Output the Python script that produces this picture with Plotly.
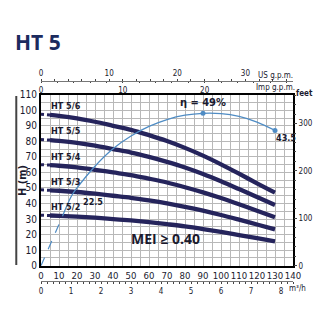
import plotly.graph_objects as go

# ---------------- data ----------------
flow = [5, 10, 20, 30, 40, 50, 60, 70, 80, 90, 100, 110, 120, 130]  # l/min
flow_dot = [0, 5]
ht56 = [97.0, 96.4, 94.8, 92.6, 90.0, 87.4, 84.0, 80.2, 75.8, 70.8, 65.2, 59.2, 53.0, 47.0]
ht55 = [80.8, 80.3, 79.0, 77.2, 75.0, 72.8, 70.0, 66.8, 63.2, 59.0, 54.3, 49.3, 44.2, 39.1]
ht54 = [64.7, 64.3, 63.2, 61.7, 60.0, 58.3, 56.0, 53.5, 50.5, 47.2, 43.5, 39.5, 35.3, 31.2]
ht53 = [48.5, 48.2, 47.4, 46.3, 45.0, 43.7, 42.0, 40.1, 37.9, 35.4, 32.6, 29.6, 26.5, 23.4]
ht52 = [32.3, 32.1, 31.6, 30.9, 30.0, 29.1, 28.0, 26.7, 25.3, 23.6, 21.7, 19.7, 17.7, 15.7]
h0 = [97.5, 81.2, 65.0, 48.8, 32.5]
names = ["HT 5/6", "HT 5/5", "HT 5/4", "HT 5/3", "HT 5/2"]

eff_flow_dash = [0, 4, 8, 12]
eff_dash = [0, 5.4, 10.8, 16.0]
eff_flow = [12, 17, 20, 30, 40, 50, 60, 70, 80, 90, 100, 110, 120, 130]
eff = [16.0, 22.5, 25.0, 32.0, 37.6, 41.7, 44.8, 47.0, 48.4, 49.0, 48.9, 48.0, 46.2, 43.5]

xticks = list(range(0, 141, 10))
yticks = list(range(0, 111, 10))
feet_ticks = [0, 100, 200, 300]
us_ticks = [0, 10, 20, 30]
imp_ticks = [0, 10, 20]
m3h_ticks = list(range(0, 9))

NAVY = "#25245c"
EFFC = "#4f8cc4"
TXT = "#1a1a2e"
FONT = "DejaVu Sans Condensed, Liberation Sans Narrow, sans-serif"
GRID = "#b8b8b8"

fig = go.Figure()
curves = [ht56, ht55, ht54, ht53, ht52]
for nm, c, s in zip(names, curves, h0):
    fig.add_trace(go.Scatter(x=flow_dot, y=[s, c[0]], mode="lines",
                             line=dict(color=NAVY, width=3, dash="dot"),
                             hoverinfo="skip", showlegend=False))
    fig.add_trace(go.Scatter(x=flow, y=c, mode="lines", line=dict(color=NAVY, width=4.3, shape="spline"),
                             showlegend=False, name=nm))
    fig.add_annotation(x=4.5, y=s, text="<b>" + nm + "</b>", showarrow=False, xanchor="left",
                       yanchor="bottom", yshift=1, font=dict(family=FONT, size=9, color=TXT))

fig.add_trace(go.Scatter(x=eff_flow_dash, y=eff_dash, mode="lines", yaxis="y3",
                         line=dict(color=EFFC, width=1.2, dash="dash"), showlegend=False))
fig.add_trace(go.Scatter(x=eff_flow, y=eff, mode="lines", yaxis="y3",
                         line=dict(color=EFFC, width=1.3, shape="spline"), showlegend=False))
fig.add_trace(go.Scatter(x=[eff_flow[9], eff_flow[-1]], y=[eff[9], eff[-1]], mode="markers", yaxis="y3",
                         marker=dict(color=EFFC, size=5), showlegend=False))

fig.add_annotation(x=90, y=49, yref="y3", text="<b>η = 49%</b>", showarrow=False, yanchor="bottom",
                   xanchor="center", yshift=2, font=dict(family=FONT, size=11, color=TXT))
fig.add_annotation(x=130, y=43.5, yref="y3", text="<b>43.5</b>", showarrow=False, yanchor="top",
                   xanchor="left", xshift=-1, yshift=-1, font=dict(family=FONT, size=9, color=TXT))
fig.add_annotation(x=17, y=22.5, yref="y3", text="<b>22.5</b>", showarrow=False, yanchor="top",
                   xanchor="left", xshift=9, yshift=1, font=dict(family=FONT, size=9, color=TXT))
fig.add_annotation(x=69, y=17.8, text="<b>MEI ≥ 0.40</b>", showarrow=False, xanchor="center",
                   yanchor="middle",
                   font=dict(family="Open Sans, DejaVu Sans, sans-serif", size=14, color=TXT))

# paper coords: x 0..1 over 41..306 px, y 0..1 over 300..70 px
def px(xp):
    return (xp - 41) / 265.0

def py(yp):
    return (300 - yp) / 230.0

def note(xp, yp, text, size, xa="center", angle=0, family=FONT, color=TXT):
    fig.add_annotation(xref="paper", yref="paper", x=px(xp), y=py(yp), text=text, showarrow=False,
                       xanchor=xa, yanchor="middle", textangle=angle,
                       font=dict(family=family, size=size, color=color))

note(12, 42, "<b>HT 5</b>", 21, xa="left", family="Open Sans, DejaVu Sans, sans-serif", color="#1c2b5e")
note(21, 180, "<b>H (m)</b>", 11, angle=-90)
note(307, 93, "<b>feet</b>", 8, xa="left")
note(308, 75, "US g.p.m.", 8, xa="right")
note(310, 87, "Imp g.p.m.", 8, xa="right")
note(300, 288, "m³/h", 8, xa="left")
fig.add_shape(type="line", xref="paper", yref="paper", x0=px(15), x1=px(15), y0=py(96), y1=py(265),
              line=dict(color="#444444", width=2))

tickfont = dict(family=FONT, size=9.5, color=TXT)
smallfont = dict(family=FONT, size=8, color=TXT)
ydom = [py(265.7), py(94.7)]

fig.update_layout(
    width=325, height=325,
    margin=dict(l=41, r=19, t=70, b=25),
    paper_bgcolor="white", plot_bgcolor="white",
    xaxis=dict(range=[0, 140], tickvals=xticks, showgrid=True, gridcolor=GRID, gridwidth=1,
               minor=dict(dtick=5, showgrid=True, gridcolor=GRID, gridwidth=1),
               showline=True, linecolor="black", linewidth=2, mirror=True, ticks="",
               tickangle=0, tickfont=tickfont, zeroline=False, anchor="y"),
    yaxis=dict(range=[0, 110], tickvals=yticks, domain=ydom, showgrid=True, gridcolor=GRID,
               minor=dict(dtick=5, showgrid=True, gridcolor=GRID),
               showline=True, linecolor="black", linewidth=2, mirror=True, ticks="",
               tickfont=dict(family=FONT, size=10, color=TXT), zeroline=False),
    yaxis2=dict(range=[0, 110 / 0.3048], tickvals=feet_ticks, overlaying="y", side="right",
                showgrid=False, ticks="outside", ticklen=3, tickfont=smallfont, zeroline=False,
                minor=dict(dtick=20, ticks="outside", ticklen=2), anchor="x"),
    yaxis3=dict(range=[0, 55], overlaying="y", visible=False),
    xaxis2=dict(range=[0, 140 / 3.78541], tickvals=us_ticks, overlaying="x", side="top",
                anchor="free", position=py(81), showline=True, linecolor="#777777", linewidth=1,
                ticks="outside", ticklen=2, tickfont=smallfont, showgrid=False, zeroline=False,
                tickangle=0, minor=dict(dtick=2, ticks="outside", ticklen=2)),
    xaxis3=dict(range=[0, 140 / 4.54609], tickvals=imp_ticks, overlaying="x", side="bottom",
                anchor="free", position=py(81), showline=False,
                ticks="outside", ticklen=1, tickfont=smallfont, showgrid=False, zeroline=False,
                tickangle=0, minor=dict(dtick=2, ticks="outside", ticklen=1)),
    xaxis4=dict(range=[0, 8.4], tickvals=m3h_ticks, overlaying="x", side="bottom",
                anchor="free", position=py(281), showline=True, linecolor="#777777", linewidth=1,
                ticks="outside", ticklen=2, tickfont=smallfont, showgrid=False, zeroline=False,
                tickangle=0, minor=dict(dtick=0.2, ticks="outside", ticklen=2)),
)
# invisible traces that activate the extra axes
fig.add_trace(go.Scatter(x=[0], y=[0], xaxis="x2", yaxis="y2", mode="markers",
                         marker=dict(opacity=0), showlegend=False, hoverinfo="skip"))
fig.add_trace(go.Scatter(x=[0], y=[0], xaxis="x3", yaxis="y", mode="markers",
                         marker=dict(opacity=0), showlegend=False, hoverinfo="skip"))
fig.add_trace(go.Scatter(x=[0], y=[0], xaxis="x4", yaxis="y", mode="markers",
                         marker=dict(opacity=0), showlegend=False, hoverinfo="skip"))

fig.write_html("out.html")
